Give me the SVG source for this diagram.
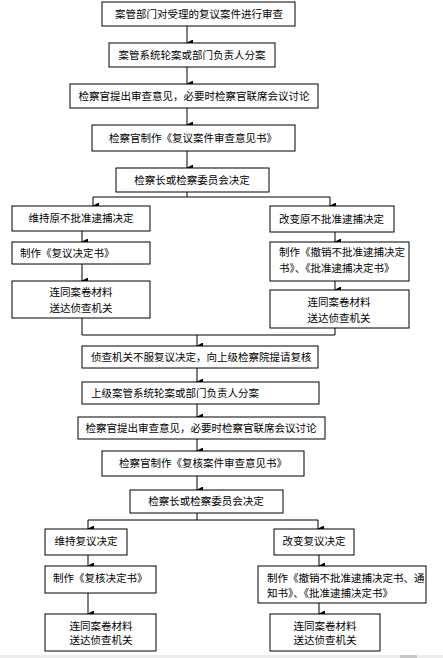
<svg xmlns="http://www.w3.org/2000/svg" width="443" height="658" viewBox="0 0 443 658">
<defs>
<marker id="ah" markerWidth="7" markerHeight="7" refX="3.5" refY="6" orient="auto-start-reverse" markerUnits="userSpaceOnUse" viewBox="0 0 7 7">
<path d="M0,0 L7,0 L3.5,7 Z" fill="#000"/>
</marker>
<style>
rect.b{fill:#fff;stroke:#000;stroke-width:1}
text{font-family:"Noto Sans CJK SC","Noto Sans",sans-serif;font-size:10.5px;fill:#000}
.c{text-anchor:middle}
.l line,.l polyline{stroke:#000;stroke-width:1;fill:none}
.a{marker-end:url(#ah)}
</style>
</defs>
<rect width="443" height="658" fill="#fff"/>
<rect x="0" y="655" width="443" height="3" fill="#ececec"/>
<rect x="400" y="655" width="17" height="3" fill="#c8c8c8"/>

<g class="l" id="connectors">
<line class="a" x1="187" y1="26" x2="187" y2="43"/>
<line class="a" x1="187" y1="67" x2="187" y2="84"/>
<line class="a" x1="187" y1="108" x2="187" y2="125"/>
<line class="a" x1="187" y1="151" x2="187" y2="168"/>
<line x1="187" y1="192" x2="187" y2="197"/>
<line x1="93" y1="197" x2="330" y2="197"/>
<line class="a" x1="93" y1="197" x2="93" y2="206"/>
<line class="a" x1="330" y1="197" x2="330" y2="206"/>
<line class="a" x1="82" y1="231" x2="82" y2="242"/>
<line class="a" x1="82" y1="264" x2="82" y2="281"/>
<line class="a" x1="335" y1="232" x2="335" y2="242"/>
<line class="a" x1="335" y1="281" x2="335" y2="290"/>
<polyline points="82,318 82,335 335,335 335,328"/>
<line class="a" x1="197" y1="335" x2="197" y2="346"/>
<line class="a" x1="197" y1="368" x2="197" y2="382"/>
<line class="a" x1="197" y1="404" x2="197" y2="417"/>
<line class="a" x1="197" y1="439" x2="197" y2="451"/>
<line class="a" x1="197" y1="476" x2="197" y2="490"/>
<line x1="197" y1="513" x2="197" y2="520"/>
<line x1="88" y1="520" x2="318" y2="520"/>
<line class="a" x1="88" y1="520" x2="88" y2="529"/>
<line class="a" x1="318" y1="520" x2="318" y2="529"/>
<line class="a" x1="88" y1="555" x2="88" y2="566"/>
<line class="a" x1="88" y1="593" x2="88" y2="614"/>
<line class="a" x1="319" y1="555" x2="319" y2="566"/>
<line class="a" x1="319" y1="603" x2="319" y2="614"/>
</g>

<g id="n1"><rect class="b" x="102" y="2" width="193" height="24"/><text class="c" x="199" y="18">案管部门对受理的复议案件进行审查</text></g>
<g id="n2"><rect class="b" x="109" y="43" width="166" height="24"/><text class="c" x="192" y="59">案管系统轮案或部门负责人分案</text></g>
<g id="n3"><rect class="b" x="70" y="84" width="248" height="24"/><text class="c" x="194" y="100">检察官提出审查意见，必要时检察官联席会议讨论</text></g>
<g id="n4"><rect class="b" x="92" y="125" width="203" height="26"/><text class="c" x="193" y="142">检察官制作《复议案件审查意见书》</text></g>
<g id="n5"><rect class="b" x="116" y="168" width="153" height="24"/><text class="c" x="192" y="184">检察长或检察委员会决定</text></g>
<g id="n6"><rect class="b" x="12" y="206" width="138" height="25"/><text class="c" x="81" y="222">维持原不批准逮捕决定</text></g>
<g id="n7"><rect class="b" x="270" y="206" width="124" height="26"/><text x="279" y="223">改变原不批准逮捕决定</text></g>
<g id="n8"><rect class="b" x="12" y="242" width="138" height="22"/><text x="20" y="257">制作《复议决定书》</text></g>
<g id="n9"><rect class="b" x="270" y="242" width="139" height="39"/><text x="279" y="256">制作《撤销不批准逮捕决定</text><text x="279" y="272">书》、《批准逮捕决定书》</text></g>
<g id="n10"><rect class="b" x="12" y="281" width="138" height="37"/><text class="c" x="81" y="296">连同案卷材料</text><text class="c" x="81" y="312">送达侦查机关</text></g>
<g id="n11"><rect class="b" x="270" y="290" width="139" height="38"/><text class="c" x="339" y="306">连同案卷材料</text><text class="c" x="339" y="322">送达侦查机关</text></g>
<g id="n12"><rect class="b" x="82" y="346" width="236" height="22"/><text x="91" y="361">侦查机关不服复议决定，向上级检察院提请复核</text></g>
<g id="n13"><rect class="b" x="82" y="382" width="237" height="22"/><text x="91" y="397">上级案管系统轮案或部门负责人分案</text></g>
<g id="n14"><rect class="b" x="78" y="417" width="247" height="22"/><text class="c" x="201" y="432">检察官提出审查意见，必要时检察官联席会议讨论</text></g>
<g id="n15"><rect class="b" x="102" y="451" width="202" height="25"/><text class="c" x="203" y="467">检察官制作《复核案件审查意见书》</text></g>
<g id="n16"><rect class="b" x="130" y="490" width="153" height="23"/><text class="c" x="206" y="505">检察长或检察委员会决定</text></g>
<g id="n17"><rect class="b" x="45" y="529" width="82" height="26"/><text class="c" x="86" y="545">维持复议决定</text></g>
<g id="n18"><rect class="b" x="274" y="529" width="80" height="26"/><text class="c" x="314" y="545">改变复议决定</text></g>
<g id="n19"><rect class="b" x="45" y="566" width="111" height="27"/><text x="53" y="582">制作《复核决定书》</text></g>
<g id="n20"><rect class="b" x="258" y="566" width="168" height="37"/><text x="267" y="582">制作《撤销不批准逮捕决定书、通</text><text x="267" y="597">知书》、《批准逮捕决定书》</text></g>
<g id="n21"><rect class="b" x="45" y="614" width="111" height="37"/><text class="c" x="101" y="630">连同案卷材料</text><text class="c" x="101" y="644">送达侦查机关</text></g>
<g id="n22"><rect class="b" x="270" y="614" width="110" height="37"/><text class="c" x="325" y="630">连同案卷材料</text><text class="c" x="325" y="644">送达侦查机关</text></g>
</svg>
